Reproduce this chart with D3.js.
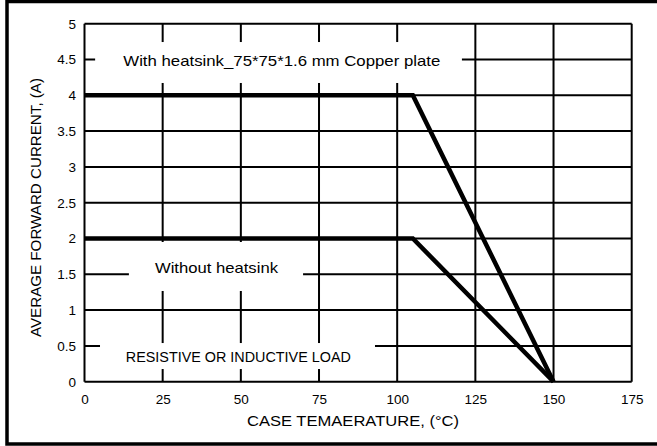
<!DOCTYPE html>
<html><head><meta charset="utf-8">
<script src="https://cdn.jsdelivr.net/npm/d3@7"></script>
<style>
html,body{margin:0;padding:0;background:#fff;}
svg{display:block;font-family:"Liberation Sans",Arial,sans-serif;}
</style></head>
<body>
<svg id="chart" width="657" height="446"></svg>
<script>
// ---- data ----
const xTicks = [0, 25, 50, 75, 100, 125, 150, 175];
const yTicks = [0, 0.5, 1, 1.5, 2, 2.5, 3, 3.5, 4, 4.5, 5];
const yTickLabels = ["0", "0.5", "1", "1.5", "2", "2.5", "3", "3.5", "4", "4.5", "5"];
const withHeatsinkTemp = [0, 105, 150];
const withHeatsinkCurrent = [4, 4, 0];
const withoutHeatsinkTemp = [0, 105, 150];
const withoutHeatsinkCurrent = [2, 2, 0];
const xTitle = "CASE TEMAERATURE, (°C)";
const yTitle = "AVERAGE FORWARD CURRENT, (A)";
const annotationTexts = ["With heatsink_75*75*1.6 mm Copper plate", "Without heatsink", "RESISTIVE OR INDUCTIVE LOAD"];

// ---- layout ----
const svg = d3.select("#chart");
const x = d3.scaleLinear().domain([0, 175]).range([84.5, 631.7]);
const y = d3.scaleLinear().domain([0, 5]).range([381.7, 23.7]);

// outer frame (left, top, bottom)
svg.append("rect").attr("x", 7).attr("y", 1.5).attr("width", 720).attr("height", 442.5)
  .attr("fill", "none").attr("stroke", "#000").attr("stroke-width", 3.5);

// grid
const grid = svg.append("g").attr("stroke", "#000").attr("stroke-width", 2);
grid.selectAll("line.v").data(xTicks).join("line").attr("class", "v")
  .attr("x1", d => x(d)).attr("x2", d => x(d)).attr("y1", y(5)).attr("y2", y(0));
grid.selectAll("line.h").data(yTicks).join("line").attr("class", "h")
  .attr("x1", x(0)).attr("x2", x(175)).attr("y1", d => y(d)).attr("y2", d => y(d));

// white knock-out boxes behind annotations (data units)
const boxes = [
  {x0: 3.4, x1: 120.7, y0: 4.172, y1: 4.744},
  {x0: 14.2, x1: 69.9, y0: 1.267, y1: 1.951},
  {x0: 4.96, x1: 92.9, y0: 0.177, y1: 0.540}
];
svg.append("g").selectAll("rect").data(boxes).join("rect")
  .attr("x", d => x(d.x0)).attr("y", d => y(d.y1))
  .attr("width", d => x(d.x1) - x(d.x0)).attr("height", d => y(d.y0) - y(d.y1))
  .attr("fill", "#fff");

// re-draw left & bottom axis frame on top (not affected)
// data lines
const line = d3.line().x(d => x(d[0])).y(d => y(d[1]));
const series = [
  d3.zip(withHeatsinkTemp, withHeatsinkCurrent),
  d3.zip(withoutHeatsinkTemp, withoutHeatsinkCurrent)
];
svg.append("g").selectAll("path").data(series).join("path")
  .attr("d", line).attr("fill", "none").attr("stroke", "#000")
  .attr("stroke-width", 4.5).attr("stroke-linejoin", "miter");

// axes (labels only)
const xAxis = d3.axisBottom(x).tickValues(xTicks).tickSize(0).tickPadding(13).tickFormat(d3.format("d"));
const gx = svg.append("g").attr("transform", `translate(0,${y(0)})`).call(xAxis);
gx.select(".domain").remove();
gx.selectAll("text").attr("font-size", 13.5).attr("fill", "#000").attr("font-family", "Liberation Sans, Arial, sans-serif");

const yAxis = d3.axisLeft(y).tickValues(yTicks).tickSize(0).tickPadding(8.5)
  .tickFormat((d, i) => yTickLabels[i]);
const gy = svg.append("g").attr("transform", `translate(${x(0)},0)`).call(yAxis);
gy.select(".domain").remove();
gy.selectAll("text").attr("font-size", 13.5).attr("fill", "#000").attr("font-family", "Liberation Sans, Arial, sans-serif");

// annotations
const ann = [
  {t: annotationTexts[0], cx: 63.1, cy: 4.49, w: 317, fs: 15},
  {t: annotationTexts[1], cx: 42.2, cy: 1.59, w: 123, fs: 15},
  {t: annotationTexts[2], cx: 49.2, cy: 0.345, w: 225, fs: 14}
];
svg.append("g").selectAll("text").data(ann).join("text")
  .attr("x", d => x(d.cx)).attr("y", d => y(d.cy))
  .attr("text-anchor", "middle").attr("dominant-baseline", "central")
  .attr("font-size", d => d.fs).attr("textLength", d => d.w).attr("lengthAdjust", "spacingAndGlyphs")
  .text(d => d.t);

// titles
svg.append("text").attr("x", 353).attr("y", 426).attr("text-anchor", "middle")
  .attr("font-size", 15).attr("textLength", 212).attr("lengthAdjust", "spacingAndGlyphs").text(xTitle);
svg.append("text").attr("transform", "translate(41,207.5) rotate(-90)").attr("text-anchor", "middle")
  .attr("font-size", 15).attr("textLength", 259).attr("lengthAdjust", "spacingAndGlyphs").text(yTitle);
</script>
</body></html>
